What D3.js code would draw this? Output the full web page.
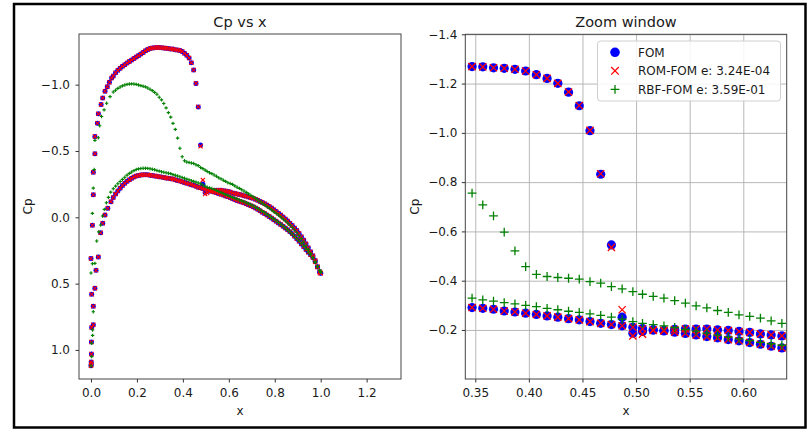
<!DOCTYPE html>
<html><head><meta charset="utf-8">
<script src="https://cdn.jsdelivr.net/npm/d3@7"></script>
<style>
body{margin:0;background:#fff}
text{font-family:"DejaVu Sans",sans-serif;fill:#1a1a1a}
</style>
</head><body>
<svg id="c" width="808" height="429"></svg>
<script>
// ---------- DATA ----------
// common chordwise stations (x/c) used from x = 0.097 to the trailing edge
const gridX = [
0.097,0.107,0.117,0.127,0.137,0.147,0.157,0.167,0.177,0.187,
0.197,0.207,0.217,0.227,0.237,0.247,0.257,0.267,0.277,0.287,
0.297,0.307,0.317,0.327,0.337,0.347,0.357,0.367,0.377,0.387,
0.397,0.407,0.417,0.427,0.437,0.447,0.457,0.467,0.477,0.487,
0.497,0.506,0.516,0.526,0.536,0.546,0.556,0.566,0.576,0.586,
0.596,0.606,0.616,0.626,0.636,0.646,0.656,0.666,0.676,0.686,
0.696,0.706,0.716,0.726,0.736,0.746,0.756,0.766,0.776,0.786,
0.796,0.806,0.816,0.826,0.836,0.846,0.856,0.866,0.876,0.886,
0.896,0.906,0.916,0.926,0.936,0.946,0.956,0.966,0.976,0.986,
0.996,1.000];

// leading-edge stations
const upperLeX = [0.000,0.001,0.002,0.003,0.000,0.006,0.010,0.010,0.017,0.017,0.028,0.032,0.044,0.051,0.061,0.071,0.080,0.090];
const lowerLeX = [0.001,0.002,0.003,0.010,0.010,0.017,0.022,0.032,0.042,0.051,0.061,0.073,0.087];
const rbfUpperLeX = [0.000,0.003,0.003,0.007,0.000,0.006,0.006,0.010,0.014,0.017,0.032,0.038,0.046,0.057,0.068,0.083];
const rbfLowerLeX = [0.007,0.010,0.017,0.025,0.034,0.042,0.050,0.058,0.067,0.076,0.086];

// FOM
const fomUpperLe = [1.120,1.090,0.940,0.580,0.310,0.060,-0.170,-0.340,-0.480,-0.610,-0.710,-0.780,-0.850,-0.900,-0.950,-0.985,-1.018,-1.050];
const fomUpper = [
-1.065,-1.090,-1.108,-1.124,-1.138,-1.150,-1.163,-1.175,-1.186,-1.197,
-1.208,-1.219,-1.231,-1.243,-1.255,-1.265,-1.272,-1.277,-1.279,-1.280,
-1.280,-1.279,-1.277,-1.275,-1.272,-1.269,-1.268,-1.264,-1.262,-1.258,
-1.251,-1.236,-1.221,-1.201,-1.165,-1.110,-1.009,-0.832,-0.545,-0.252,
-0.187,-0.194,-0.200,-0.198,-0.203,-0.204,-0.204,-0.204,-0.200,-0.198,
-0.194,-0.190,-0.184,-0.180,-0.176,-0.172,-0.168,-0.163,-0.158,-0.153,
-0.148,-0.143,-0.136,-0.128,-0.120,-0.111,-0.102,-0.093,-0.082,-0.070,
-0.057,-0.044,-0.031,-0.017,-0.003,0.012,0.028,0.045,0.062,0.080,
0.100,0.122,0.146,0.172,0.200,0.230,0.260,0.290,0.325,0.372,
0.410,0.420];
const fomLowerLe = [1.110,1.030,0.830,0.810,0.670,0.535,0.400,0.300,0.116,0.045,-0.017,-0.068,-0.118];
const fomLower = [
-0.150,-0.175,-0.198,-0.220,-0.240,-0.257,-0.271,-0.284,-0.295,-0.304,
-0.311,-0.316,-0.319,-0.321,-0.321,-0.320,-0.318,-0.315,-0.312,-0.309,
-0.306,-0.303,-0.300,-0.297,-0.294,-0.291,-0.288,-0.284,-0.277,-0.273,
-0.268,-0.263,-0.257,-0.252,-0.246,-0.241,-0.234,-0.227,-0.222,-0.217,
-0.211,-0.206,-0.200,-0.196,-0.191,-0.186,-0.180,-0.173,-0.168,-0.161,
-0.156,-0.149,-0.142,-0.134,-0.127,-0.121,-0.115,-0.109,-0.102,-0.095,
-0.088,-0.080,-0.070,-0.060,-0.050,-0.039,-0.028,-0.017,-0.006,0.006,
0.018,0.030,0.042,0.054,0.067,0.080,0.094,0.108,0.124,0.142,
0.161,0.181,0.201,0.222,0.243,0.263,0.283,0.303,0.335,0.375,
0.415,0.422];

// ROM
const romUpperLe = [1.120,1.090,0.940,0.580,0.310,0.060,-0.170,-0.340,-0.480,-0.610,-0.710,-0.780,-0.850,-0.900,-0.950,-0.985,-1.018,-1.050];
const romUpper = [
-1.065,-1.090,-1.108,-1.124,-1.138,-1.150,-1.163,-1.175,-1.186,-1.197,
-1.208,-1.219,-1.231,-1.243,-1.255,-1.265,-1.272,-1.277,-1.279,-1.280,
-1.280,-1.279,-1.277,-1.275,-1.272,-1.269,-1.268,-1.264,-1.262,-1.258,
-1.251,-1.236,-1.221,-1.201,-1.166,-1.111,-1.010,-0.834,-0.535,-0.282,
-0.176,-0.183,-0.198,-0.199,-0.202,-0.204,-0.204,-0.204,-0.200,-0.198,
-0.194,-0.190,-0.184,-0.180,-0.176,-0.172,-0.168,-0.163,-0.158,-0.153,
-0.148,-0.143,-0.136,-0.128,-0.120,-0.111,-0.102,-0.093,-0.082,-0.070,
-0.057,-0.044,-0.031,-0.017,-0.003,0.012,0.028,0.045,0.062,0.080,
0.100,0.122,0.146,0.172,0.200,0.230,0.260,0.290,0.325,0.372,
0.410,0.420];
const romLowerLe = [1.110,1.030,0.830,0.810,0.670,0.535,0.400,0.300,0.116,0.045,-0.017,-0.068,-0.118];
const romLower = [
-0.150,-0.175,-0.198,-0.220,-0.240,-0.257,-0.271,-0.284,-0.295,-0.304,
-0.311,-0.316,-0.319,-0.321,-0.321,-0.320,-0.318,-0.315,-0.312,-0.309,
-0.306,-0.303,-0.300,-0.297,-0.294,-0.291,-0.288,-0.284,-0.277,-0.273,
-0.268,-0.263,-0.257,-0.252,-0.246,-0.241,-0.234,-0.227,-0.222,-0.217,
-0.211,-0.205,-0.200,-0.196,-0.191,-0.186,-0.180,-0.173,-0.168,-0.161,
-0.156,-0.149,-0.142,-0.134,-0.127,-0.121,-0.115,-0.109,-0.102,-0.095,
-0.088,-0.080,-0.070,-0.060,-0.050,-0.039,-0.028,-0.017,-0.006,0.006,
0.018,0.030,0.042,0.054,0.067,0.080,0.094,0.108,0.124,0.142,
0.161,0.181,0.201,0.222,0.243,0.263,0.283,0.303,0.335,0.375,
0.415,0.422];

// RBF
const rbfUpperLe = [1.120,1.050,0.950,0.850,0.420,0.350,-0.030,-0.220,-0.360,-0.580,-0.600,-0.690,-0.760,-0.810,-0.860,-0.910];
const rbfUpper = [
-0.945,-0.958,-0.972,-0.982,-0.991,-0.998,-1.002,-1.005,-1.006,-1.005,
-1.002,-0.998,-0.993,-0.988,-0.983,-0.975,-0.965,-0.955,-0.942,-0.928,
-0.905,-0.885,-0.858,-0.825,-0.789,-0.755,-0.708,-0.663,-0.597,-0.521,
-0.457,-0.426,-0.417,-0.413,-0.410,-0.406,-0.396,-0.390,-0.376,-0.367,
-0.356,-0.345,-0.336,-0.329,-0.319,-0.309,-0.298,-0.290,-0.279,-0.271,
-0.261,-0.255,-0.248,-0.237,-0.227,-0.218,-0.208,-0.198,-0.188,-0.177,
-0.165,-0.154,-0.142,-0.130,-0.118,-0.106,-0.094,-0.082,-0.069,-0.056,
-0.043,-0.030,-0.017,-0.003,0.012,0.027,0.043,0.059,0.077,0.096,
0.116,0.138,0.161,0.186,0.213,0.242,0.273,0.305,0.340,0.375,
0.400,0.410];
const rbfLowerLe = [0.890,0.712,0.347,0.179,0.110,0.058,-0.010,-0.060,-0.110,-0.150,-0.190];
const rbfLower = [
-0.215,-0.235,-0.253,-0.270,-0.286,-0.302,-0.318,-0.331,-0.342,-0.352,
-0.360,-0.365,-0.368,-0.370,-0.370,-0.369,-0.366,-0.362,-0.358,-0.353,
-0.348,-0.344,-0.340,-0.336,-0.332,-0.329,-0.322,-0.317,-0.311,-0.306,
-0.300,-0.295,-0.288,-0.282,-0.276,-0.271,-0.265,-0.259,-0.252,-0.244,
-0.234,-0.227,-0.222,-0.217,-0.210,-0.202,-0.195,-0.187,-0.179,-0.171,
-0.164,-0.157,-0.150,-0.144,-0.138,-0.131,-0.124,-0.117,-0.110,-0.102,
-0.094,-0.085,-0.076,-0.066,-0.056,-0.045,-0.034,-0.022,-0.010,0.002,
0.014,0.026,0.039,0.052,0.066,0.080,0.095,0.110,0.126,0.143,
0.160,0.178,0.197,0.217,0.238,0.260,0.283,0.307,0.335,0.368,
0.402,0.415];

const seriesNames = ["FOM", "ROM-FOM e: 3.24E-04", "RBF-FOM e: 3.59E-01"];
const leftXTicks = [0.0,0.2,0.4,0.6,0.8,1.0,1.2];
const leftYTicks = [-1.0,-0.5,0.0,0.5,1.0];
const rightXTicks = [0.35,0.40,0.45,0.50,0.55,0.60];
const rightYTicks = [-1.4,-1.2,-1.0,-0.8,-0.6,-0.4,-0.2];

// ---------- DRAWING ----------
const svg = d3.select("#c");
const pts = (xs, ys) => d3.zip(xs, ys);
const fom = pts(upperLeX, fomUpperLe).concat(pts(gridX, fomUpper), pts(lowerLeX, fomLowerLe), pts(gridX, fomLower));
const rom = pts(upperLeX, romUpperLe).concat(pts(gridX, romUpper), pts(lowerLeX, romLowerLe), pts(gridX, romLower));
const rbf = pts(rbfUpperLeX, rbfUpperLe).concat(pts(gridX, rbfUpper), pts(rbfLowerLeX, rbfLowerLe), pts(gridX, rbfLower));

const COL = {fom:"#0000ff", rom:"#ff0000", rbf:"#008000"};
const xPath = a => `M${-a},${-a}L${a},${a}M${-a},${a}L${a},${-a}`;
const pPath = a => `M${-a},0L${a},0M0,${-a}L0,${a}`;

svg.append("rect").attr("x",0).attr("y",0).attr("width",808).attr("height",429).attr("fill","#fff");

function panel(o, id) {
  const x = d3.scaleLinear().domain(o.xDom).range([o.l, o.r]);
  const y = d3.scaleLinear().domain(o.yDom).range([o.t, o.b]);
  const g = svg.append("g");
  g.append("clipPath").attr("id", id).append("rect")
    .attr("x", o.l).attr("y", o.t).attr("width", o.r - o.l).attr("height", o.b - o.t);

  if (o.grid) {
    const gx = g.append("g").attr("transform", `translate(0,${o.b})`)
      .call(d3.axisBottom(x).tickValues(o.xTicks).tickSize(-(o.b - o.t)).tickFormat(""));
    const gy = g.append("g").attr("transform", `translate(${o.l},0)`)
      .call(d3.axisLeft(y).tickValues(o.yTicks).tickSize(-(o.r - o.l)).tickFormat(""));
    [gx, gy].forEach(s => { s.select(".domain").remove(); s.selectAll("line").attr("stroke","#b0b0b0").attr("stroke-width",0.9); });
  }

  const m = g.append("g").attr("clip-path", `url(#${id})`);
  m.selectAll(".f").data(fom).join("circle")
    .attr("cx", d => x(d[0])).attr("cy", d => y(d[1])).attr("r", o.rc).attr("fill", COL.fom);
  m.selectAll(".r").data(rom).join("path")
    .attr("transform", d => `translate(${x(d[0])},${y(d[1])})`).attr("d", xPath(o.rx))
    .attr("stroke", COL.rom).attr("stroke-width", o.sw).attr("fill","none");
  m.selectAll(".g").data(rbf).join("path")
    .attr("transform", d => `translate(${x(d[0])},${y(d[1])})`).attr("d", pPath(o.rp))
    .attr("stroke", COL.rbf).attr("stroke-width", o.sw).attr("fill","none");

  const ax = g.append("g").attr("transform", `translate(0,${o.b})`)
    .call(d3.axisBottom(x).tickValues(o.xTicks).tickFormat(d3.format(o.xf)).tickSize(3.5).tickPadding(5.5));
  const ay = g.append("g").attr("transform", `translate(${o.l},0)`)
    .call(d3.axisLeft(y).tickValues(o.yTicks).tickFormat(d3.format(".1f")).tickSize(3.5).tickPadding(o.yPad));
  [ax, ay].forEach(s => {
    s.select(".domain").remove();
    s.selectAll("line").attr("stroke","#333");
    s.selectAll("text").attr("font-size", 12).attr("font-family","DejaVu Sans").attr("fill","#1a1a1a");
  });
  g.append("rect").attr("x", o.l).attr("y", o.t).attr("width", o.r - o.l).attr("height", o.b - o.t)
    .attr("fill","none").attr("stroke","#444").attr("stroke-width",1);

  const cx = (o.l + o.r) / 2;
  g.append("text").attr("x", cx).attr("y", 27).attr("text-anchor","middle").attr("font-size",14.5).text(o.title);
  g.append("text").attr("x", cx).attr("y", 415).attr("text-anchor","middle").attr("font-size",12).text("x");
  g.append("text").attr("transform", `translate(${o.yl},${(o.t + o.b) / 2}) rotate(-90)`)
    .attr("text-anchor","middle").attr("font-size",12).text("Cp");
  return {x, y, g};
}

panel({l:79, r:401, t:34, b:379, xDom:[-0.0522,1.3496], yDom:[-1.382,1.219],
  xTicks:leftXTicks, yTicks:leftYTicks, xf:".1f", yPad:5.5, grid:false,
  rc:2.5, rx:2.1, rp:1.7, sw:1.1, title:"Cp vs x", yl:32}, "clipL");

panel({l:465.3, r:786.7, t:34.3, b:379, xDom:[0.3407,0.6405], yDom:[-1.4,-0.001],
  xTicks:rightXTicks, yTicks:rightYTicks, xf:".2f", yPad:4.5, grid:true,
  rc:4.6, rx:3.6, rp:4.4, sw:1.3, title:"Zoom window", yl:419}, "clipR");

// legend
const lg = svg.append("g");
lg.append("rect").attr("x",597.5).attr("y",41).attr("width",183).attr("height",60).attr("rx",3)
  .attr("fill","#fff").attr("fill-opacity",0.85).attr("stroke","#d0d0d0").attr("stroke-width",1);
const rowsY = [52.3, 70.8, 89.3];
lg.append("circle").attr("cx",615).attr("cy",rowsY[0]).attr("r",4.8).attr("fill",COL.fom);
lg.append("path").attr("transform",`translate(615,${rowsY[1]})`).attr("d",xPath(3.8)).attr("stroke",COL.rom).attr("stroke-width",1.3).attr("fill","none");
lg.append("path").attr("transform",`translate(615,${rowsY[2]})`).attr("d",pPath(4.4)).attr("stroke",COL.rbf).attr("stroke-width",1.3).attr("fill","none");
seriesNames.forEach((n, i) => {
  lg.append("text").attr("x",638).attr("y",rowsY[i]+4.3).attr("font-size",12).text(n);
});

// outer frame
svg.append("rect").attr("x",14).attr("y",4).attr("width",791.5).attr("height",423.5)
  .attr("fill","none").attr("stroke","#000").attr("stroke-width",2.5);
</script>
</body></html>
